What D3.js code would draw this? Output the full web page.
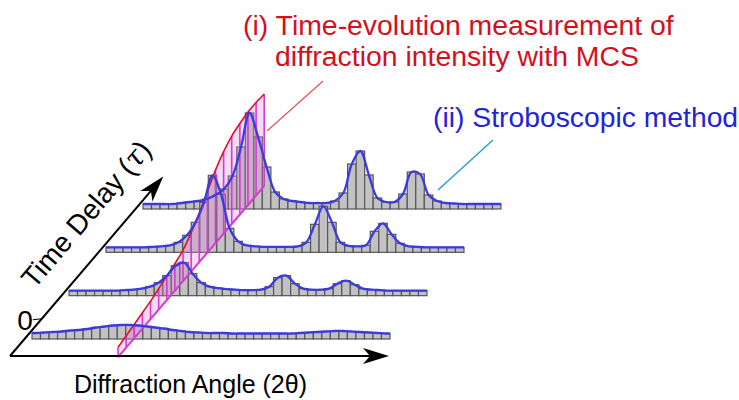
<!DOCTYPE html>
<html>
<head>
<meta charset="utf-8">
<script src="https://cdn.jsdelivr.net/npm/d3@7"></script>
<style>
  body { margin: 0; background: #fff; }
  svg { display: block; font-family: "Liberation Sans", Arial, sans-serif; }
</style>
</head>
<body>
<svg id="chart" width="739" height="400"></svg>
<script>
// diffraction profiles (counts per angle bin), one row per time delay
var rowDelays = [0, 1, 2, 3];
var profileT0 = [6,6.5,7,7.5,8.5,9,10,11.5,12.5,13.5,14,14,13.5,12.5,11.5,10.5,9,8,7,6.5,6,6,6,5.5,5.5,5.5,5.5,5.5,5.5,5.5,5.5,6,6.5,7,7.5,8,8,7.5,7,6.5,6,5.5];
var profileT1 = [5,5,5,5,5,5,5.5,6,7,9,13,20,30,33,22,13,9,7.5,6.5,6,5.5,5.5,6,9,18,20,12,7,6,6,7,12,15,11,7,6,5.5,5,5,5,5,5];
var profileT2 = [5,5,5,5,5,5.5,6,7,10,17,30,50,77,58,24,11,7,6,5.5,5.5,5.5,5.5,6,10,28,46,30,10,6.5,6,7,21,29,18,9,6,5.5,5,5,5,5,5];
var profileT3 = [5,5,5,5,6,7,8,10,14,20,33,62,96,72,42,17,10,8,7,6,6,6,8,16,45,58,34,11,7,7,15,37,35,14,8,6,5.5,5,5,5,5,5];
var profiles = [profileT0, profileT1, profileT2, profileT3];

// MCS time-evolution at the main peak angle
var mcsIntensity = [10,12,14,16,18,21,24,27,31,39,49,61,73,82,88,91,93,93,92];
var mcsDelayRange = [-0.42, 3.53];
var mcsAngleBin = 11.92;

var tauTicks = ["0"];
var titleMCS = ["(i) Time-evolution measurement of", "diffraction intensity with MCS"];
var titleStrobo = "(ii) Stroboscopic method";

var nBins = profileT0.length;
var svg = d3.select("#chart");

// pseudo-3d projection: angle runs right, delay runs up-right, intensity up
var angle = d3.scaleLinear().domain([0, nBins]).range([0, 358]);
var delayX = d3.scaleLinear().domain([0, 3]).range([32, 143]);
var delayY = d3.scaleLinear().domain([0, 3]).range([339, 209]);
var inten = d3.scaleLinear().domain([0, 100]).range([0, 100]);

function proj(a, d, v) {
    return [delayX(d) + angle(a), delayY(d) - inten(v)];
}

// histogram bars, back row first
var barLayer = svg.append("g").attr("class", "bars");
rowDelays.slice().reverse().forEach(function(d) {
    var vals = profiles[d];
    barLayer.append("g")
        .selectAll("rect")
        .data(vals)
        .enter().append("rect")
        .attr("x", (v, i) => proj(i, d, 0)[0])
        .attr("width", (v, i) => proj(i + 1, d, 0)[0] - proj(i, d, 0)[0])
        .attr("y", (v, i) => proj(i, d, v)[1])
        .attr("height", v => inten(v))
        .style("fill", "#c2c2c2")
        .style("stroke", "#555")
        .style("stroke-width", 1.2);
});

// MCS band (time slice at fixed angle)
var mcsDelay = d3.scaleLinear().domain([0, mcsIntensity.length - 1]).range(mcsDelayRange);
var band = svg.append("g").attr("class", "mcs-band");

var bandArea = d3.area()
    .x(function(v, k) { return proj(mcsAngleBin, mcsDelay(k), 0)[0]; })
    .y0(function(v, k) { return proj(mcsAngleBin, mcsDelay(k), 0)[1]; })
    .y1(function(v, k) { return proj(mcsAngleBin, mcsDelay(k), v)[1]; })
    .curve(d3.curveLinear);

band.append("path")
    .datum(mcsIntensity)
    .attr("d", bandArea)
    .style("fill", "#e07ae0")
    .style("fill-opacity", 0.28);

band.selectAll(".hatch")
    .data(mcsIntensity)
    .enter().append("line")
    .attr("class", "hatch")
    .attr("x1", (v, k) => proj(mcsAngleBin, mcsDelay(k), 0)[0])
    .attr("x2", (v, k) => proj(mcsAngleBin, mcsDelay(k), v)[0])
    .attr("y1", (v, k) => proj(mcsAngleBin, mcsDelay(k), 0)[1])
    .attr("y2", (v, k) => proj(mcsAngleBin, mcsDelay(k), v)[1])
    .style("stroke", "#d23cd2")
    .style("stroke-width", 1.6);

band.append("line")
    .attr("x1", proj(mcsAngleBin, mcsDelayRange[0], 0)[0])
    .attr("y1", proj(mcsAngleBin, mcsDelayRange[0], 0)[1])
    .attr("x2", proj(mcsAngleBin, mcsDelayRange[1], 0)[0])
    .attr("y2", proj(mcsAngleBin, mcsDelayRange[1], 0)[1])
    .style("stroke", "#d23cd2")
    .style("stroke-width", 2);

// fitted profiles (blue)
var curveLayer = svg.append("g").attr("class", "fits");
rowDelays.slice().reverse().forEach(function(d) {
    var vals = profiles[d];
    var pts = [[0, vals[0]]];
    vals.forEach(function(v, i) { pts.push([i + 0.5, v]); });
    pts.push([nBins, vals[nBins - 1]]);
    var line = d3.line()
        .x(p => proj(p[0], d, p[1])[0])
        .y(p => proj(p[0], d, p[1])[1])
        .curve(d3.curveCatmullRom.alpha(0.5));
    curveLayer.append("path")
        .datum(pts)
        .attr("d", line)
        .style("fill", "none")
        .style("stroke", "#3a3ae0")
        .style("stroke-width", 2.3);
});

// red MCS intensity curve
var redLine = d3.line()
    .x((v, k) => proj(mcsAngleBin, mcsDelay(k), v)[0])
    .y((v, k) => proj(mcsAngleBin, mcsDelay(k), v)[1])
    .curve(d3.curveMonotoneX);
band.append("path")
    .datum(mcsIntensity)
    .attr("d", redLine)
    .style("fill", "none")
    .style("stroke", "#e0102c")
    .style("stroke-width", 1.6);

// axes
var origin = [10, 356];
var axisG = svg.append("g").attr("class", "axes");
function arrow(x1, y1, x2, y2) {
    var ang = Math.atan2(y2 - y1, x2 - x1) * 180 / Math.PI;
    axisG.append("line")
        .attr("x1", x1).attr("y1", y1)
        .attr("x2", x2 - 14 * Math.cos(ang * Math.PI / 180))
        .attr("y2", y2 - 14 * Math.sin(ang * Math.PI / 180))
        .style("stroke", "#000")
        .style("stroke-width", 2);
    axisG.append("path")
        .attr("d", "M0,0L-26,-8L-19,0L-26,8Z")
        .attr("transform", "translate(" + x2 + "," + y2 + ") rotate(" + ang + ")")
        .style("fill", "#000");
}
arrow(origin[0], origin[1], 389, origin[1]);

// delay axis follows the row offset direction
var dux = delayX(1) - delayX(0), duy = delayY(1) - delayY(0);
var dlen = Math.sqrt(dux * dux + duy * duy);
var axisLen = 236;
arrow(origin[0], origin[1], origin[0] + dux / dlen * axisLen, origin[1] + duy / dlen * axisLen);

// tick "0" on the delay axis
var tickPos = [origin[0] + dux / dlen * 49, origin[1] + duy / dlen * 49];
axisG.append("line")
    .attr("x1", tickPos[0] - 9).attr("y1", tickPos[1] + 1)
    .attr("x2", tickPos[0]).attr("y2", tickPos[1])
    .style("stroke", "#000").style("stroke-width", 1.2);
axisG.append("text")
    .attr("x", tickPos[0] - 9)
    .attr("y", tickPos[1] + 11)
    .attr("text-anchor", "end")
    .style("font-size", "28px")
    .text(tauTicks[0]);

var delayAngle = Math.atan2(duy, dux) * 180 / Math.PI;
var tauLabel = axisG.append("text")
    .attr("transform", "translate(86,214) rotate(" + delayAngle + ")")
    .attr("text-anchor", "middle")
    .attr("dy", "0.35em")
    .style("font-size", "28px");
tauLabel.append("tspan").text("Time Delay (");
tauLabel.append("tspan").style("font-style", "italic").style("font-family", "DejaVu Serif").text("τ");
tauLabel.append("tspan").text(")");

axisG.append("text")
    .attr("x", 74)
    .attr("y", 393)
    .style("font-size", "25px")
    .text("Diffraction Angle (2θ)");

// annotations
var notes = svg.append("g").attr("class", "notes");
notes.selectAll(".mcs-title")
    .data(titleMCS)
    .enter().append("text")
    .attr("class", "mcs-title")
    .attr("x", (t, i) => i === 0 ? 243 : 275)
    .attr("y", (t, i) => 35 + i * 31)
    .style("font-size", "28.4px")
    .style("fill", "#d4101e")
    .text(t => t);

notes.append("line")
    .attr("x1", 267).attr("y1", 131)
    .attr("x2", 323).attr("y2", 81)
    .style("stroke", "#e8505e")
    .style("stroke-width", 1.2);

notes.append("text")
    .attr("x", 433)
    .attr("y", 127)
    .style("font-size", "28.3px")
    .style("fill", "#2323d6")
    .text(titleStrobo);

notes.append("line")
    .attr("x1", 438).attr("y1", 190)
    .attr("x2", 493).attr("y2", 140)
    .style("stroke", "#2a9ad4")
    .style("stroke-width", 1.4);
</script>
</body>
</html>
